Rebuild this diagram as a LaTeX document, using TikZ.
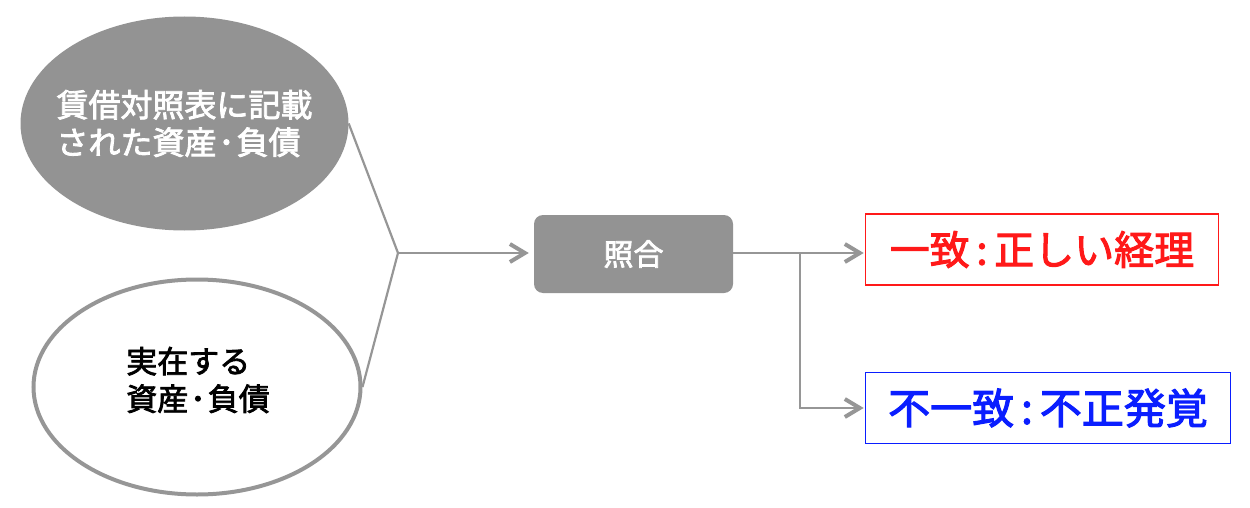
\documentclass[tikz,border=0pt]{standalone}
\usepackage{fontspec}
\setmainfont{Noto Sans CJK JP}
\newfontfamily\jpmed{Noto Sans CJK JP}[FakeBold=2.5]
\usetikzlibrary{positioning,shapes.geometric,arrows.meta}
\definecolor{boxgray}{RGB}{147,147,147}
\definecolor{linegray}{RGB}{150,150,150}
\definecolor{okred}{RGB}{255,25,25}
\definecolor{ngblue}{RGB}{10,30,255}
\newcommand{\middot}{\kern2pt･\kern2pt}
\begin{document}
\begin{tikzpicture}[x=1pt,y=-1pt,
            ovalnode/.style={ellipse, inner sep=0pt, minimum width=328pt, minimum height=214pt},
            ovaltext/.style={align=left, inner sep=0pt, font=\fontsize{32}{37.5}\selectfont\jpmed},
            roundnode/.style={rectangle, rounded corners=9pt, fill=boxgray, text=white, minimum width=199pt, minimum height=78pt, font=\fontsize{30}{36}\selectfont\jpmed},
            resultnode/.style={rectangle, draw, line width=1.6pt, inner sep=0pt, minimum height=71pt, font=\fontsize{42}{48}\selectfont\jpmed},
            link/.style={draw=linegray, line width=2.2pt},
            arrow/.style={link, -{Straight Barb[length=15pt,width=18pt,line width=4pt]}},
            ]
            \useasboundingbox (0,0) rectangle (1250,508);
            %Nodes
            \node[ovalnode, fill=boxgray]                    (bs)     at (184.5,123.5) {};
            \node[ovaltext, text=white]                       (bstext) at (bs.center)   {賃借対照表に記載\\された資産\middot 負債};
            \node[ovalnode, draw=linegray, line width=4pt,
                  minimum width=327pt, minimum height=215pt]  (real)   at (197,387)     {};
            \node[ovaltext, font=\fontsize{31}{37.5}\selectfont\jpmed]
                                                              (realtext) at (198,380)  {実在する\\資産\middot 負債};
            \coordinate (join) at (398,253);
            \node[roundnode]                                  (check) at (633.5,254)   {照合};
            \node[resultnode, draw=okred, text=okred, minimum width=353pt,
                  font=\fontsize{40}{48}\selectfont\jpmed] (ok) at (1042,249.5) {一致\,:\,正しい経理};
            \node[resultnode, draw=ngblue, text=ngblue, minimum width=365pt] (ng) at (1048,408) {不一致\,:\,不正発覚};
            \coordinate (fork) at (800,253);

            %Lines
            \draw[link] (bs.east) -- (join) -- (real.east);
            \draw[arrow] (join) -- ([xshift=-5pt]check.west |- join);
            \draw[link] (check.east |- fork) -- (fork);
            \draw[arrow] (fork) -- ([xshift=-1pt]ok.west |- fork);
            \draw[arrow] (fork) |- ([xshift=-1pt]ng.west);

        \end{tikzpicture}
\end{document}
